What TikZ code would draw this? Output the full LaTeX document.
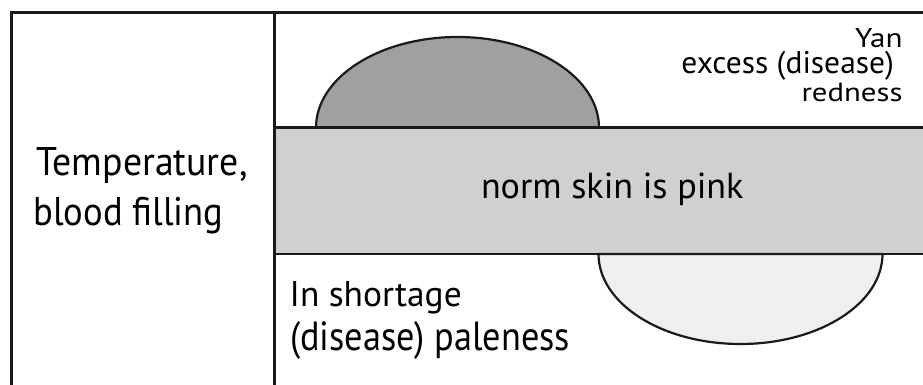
\documentclass[tikz,border=0pt]{standalone}
\usepackage{fontspec}
\setmainfont{PT Sans}
\usepackage{graphicx}
\definecolor{linecol}{RGB}{26,26,26}
\definecolor{bandgray}{RGB}{208,208,208}
\definecolor{darkdome}{RGB}{160,160,160}
\definecolor{lightdome}{RGB}{239,239,239}
\newcommand{\fitline}[3]{\resizebox{#1pt}{#2pt}{#3}}
\tikzset{
  lbl/.style={inner sep=0pt, outer sep=0pt, text=black},
  frameline/.style={draw=linecol, line width=3pt},
  bandline/.style={draw=linecol, line width=2.6pt},
  domeline/.style={draw=linecol, line width=2.2pt},
}
\begin{document}
\begin{tikzpicture}[x=1pt,y=1pt]
\useasboundingbox (0,0) rectangle (923,384);
\clip (0,0) rectangle (923,384);
\fill[white] (0,0) rectangle (923,384);
% band fill
\fill[bandgray] (274.7,130) rectangle (940,256.3);
% domes
\path[domeline, fill=darkdome] (599,256.3) arc[start angle=0, end angle=180, x radius=141.5, y radius=90.7] -- cycle;
\path[domeline, fill=lightdome] (882.5,130) arc[start angle=0, end angle=-180, x radius=142, y radius=90] -- cycle;
% band lines
\coordinate (bandTL) at (274.7,256.3);
\coordinate (bandTR) at (940,256.3);
\coordinate (bandBL) at (274.7,130);
\coordinate (bandBR) at (940,130);
\draw[bandline] (bandTL) -- (bandTR);
\draw[bandline] (bandBL) -- (bandBR);
% frame
\coordinate (frameTL) at (11.7,371);
\coordinate (frameBR) at (935,-20);
\draw[frameline] (frameTL) rectangle (frameBR);
\coordinate (divTop) at (274.7,371);
\coordinate (divBot) at (274.7,-20);
\draw[frameline] (divTop) -- (divBot);
% texts
\node[lbl, anchor=base west] (t1) at (36.5,208.3) {\fitline{211}{28}{Temperature,}};
\node[lbl, anchor=base west] (t2) at (33.3,159) {\fitline{190}{28.3}{blood filling}};
\node[lbl, anchor=base west] (c1) at (481,185.7) {\fitline{262.5}{25.6}{norm skin is pink}};
\node[lbl, anchor=base west] (b1) at (289.7,78) {\fitline{172}{25}{In shortage}};
\node[lbl, anchor=base west] (b2) at (290,33.3) {\fitline{280}{29}{(disease) paleness}};
\node[lbl, anchor=base east] (r1) at (902.5,336.7) {\fitline{47.5}{19}{Yan}};
\node[lbl, anchor=base east] (r2) at (894,310) {\fitline{212.5}{22.3}{excess (disease)}};
\node[lbl, anchor=base east] (r3) at (902.5,282.3) {\fitline{101}{18.4}{redness}};
\end{tikzpicture}
\end{document}
